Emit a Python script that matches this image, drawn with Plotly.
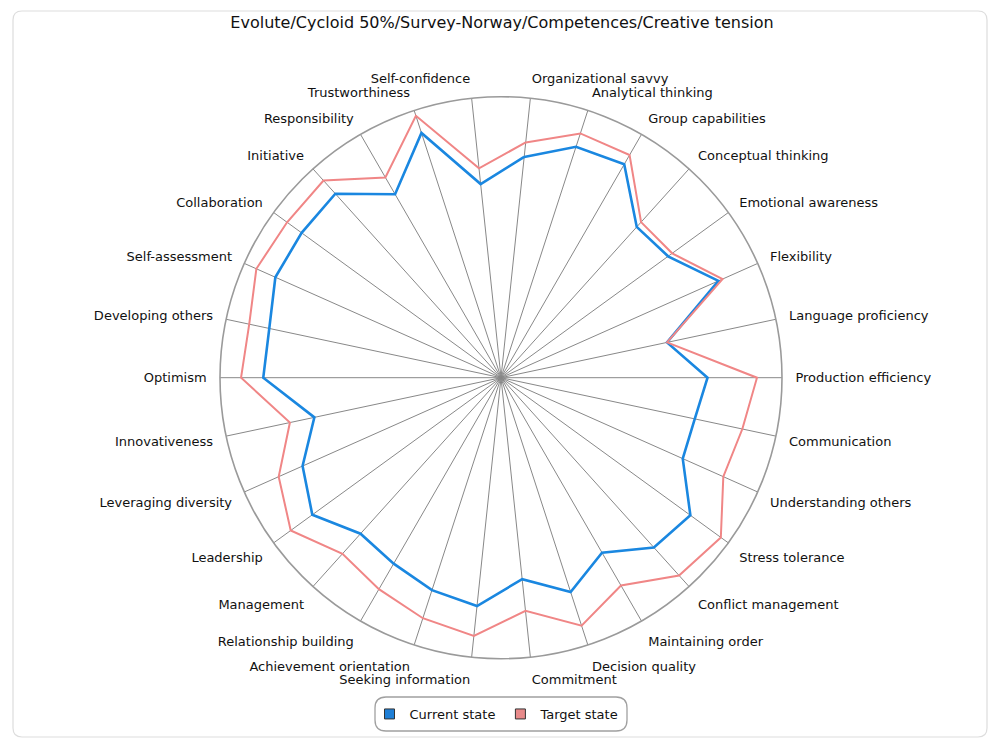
import plotly.graph_objects as go

# Competences, listed clockwise starting just right of the top
competences = [
    "Organizational savvy", "Analytical thinking", "Group capabilities",
    "Conceptual thinking", "Emotional awareness", "Flexibility",
    "Language proficiency", "Production efficiency", "Communication",
    "Understanding others", "Stress tolerance", "Conflict management",
    "Maintaining order", "Decision quality", "Commitment",
    "Seeking information", "Achievement orientation", "Relationship building",
    "Management", "Leadership", "Leveraging diversity", "Innovativeness",
    "Optimism", "Developing others", "Self-assessment", "Collaboration",
    "Initiative", "Responsibility", "Trustworthiness", "Self-confidence",
]

current_state = [
    79.0, 86.4, 87.7, 72.2, 73.5, 84.7, 60.4, 73.5, 70.5, 70.8,
    83.3, 81.3, 71.9, 80.2, 72.1, 81.7, 79.5, 76.4, 74.7, 83.0,
    77.3, 67.9, 84.6, 84.3, 87.9, 87.7, 88.1, 75.4, 91.6, 69.3,
]

target_state = [
    84.2, 91.4, 91.5, 74.5, 75.3, 86.3, 60.4, 91.1, 87.8, 86.6,
    96.7, 94.7, 85.4, 92.8, 83.4, 92.4, 90.0, 86.9, 84.3, 92.5,
    86.6, 76.8, 92.5, 91.6, 95.3, 94.1, 94.4, 82.3, 98.0, 74.9,
]

series_names = ["Current state", "Target state"]
line_colors = ["#1a87e0", "#f08686"]
legend_fills = ["#1f7fd6", "#e88a8a"]

W, H = 990, 738
FONT = "DejaVu Sans"


def px(x):
    return x / W


def py(y):
    return 1 - y / H


def rounded_rect(x0, y0, x1, y1, r):
    """SVG path (paper coords) for a rectangle with rounded corners given in pixels."""
    pts = [
        f"M {px(x0 + r)},{py(y0)}",
        f"L {px(x1 - r)},{py(y0)}",
        f"Q {px(x1)},{py(y0)} {px(x1)},{py(y0 + r)}",
        f"L {px(x1)},{py(y1 - r)}",
        f"Q {px(x1)},{py(y1)} {px(x1 - r)},{py(y1)}",
        f"L {px(x0 + r)},{py(y1)}",
        f"Q {px(x0)},{py(y1)} {px(x0)},{py(y1 - r)}",
        f"L {px(x0)},{py(y0 + r)}",
        f"Q {px(x0)},{py(y0)} {px(x0 + r)},{py(y0)}",
        "Z",
    ]
    return " ".join(pts)


fig = go.Figure()

for name, vals, col in zip(series_names, [current_state, target_state], line_colors):
    fig.add_trace(go.Scatterpolar(
        r=vals + vals[:1],
        theta=competences + competences[:1],
        mode="lines",
        line=dict(color=col, width=2.6 if name == "Current state" else 2),
        name=name,
        showlegend=False,
        hoverinfo="r+theta+name",
    ))

# Square legend swatches
for name, fill in zip(series_names, legend_fills):
    fig.add_trace(go.Scatterpolar(
        r=[None], theta=[competences[0]],
        mode="markers",
        marker=dict(symbol="square", size=10, color=fill,
                    line=dict(color="#333333", width=1)),
        name=name,
        showlegend=True,
    ))

cx, cy, R = 501, 377.7, 281

fig.update_layout(
    width=W, height=H,
    margin=dict(l=0, r=0, t=0, b=0),
    paper_bgcolor="white",
    plot_bgcolor="white",
    font=dict(family=FONT, size=13, color="#111111"),
    title=dict(
        text="Evolute/Cycloid 50%/Survey-Norway/Competences/Creative tension",
        x=px(502), xanchor="center",
        y=py(22), yanchor="middle",
        font=dict(family=FONT, size=16, color="#111111"),
    ),
    polar=dict(
        domain=dict(x=[px(cx - R), px(cx + R)], y=[py(cy + R), py(cy - R)]),
        bgcolor="white",
        radialaxis=dict(visible=False, range=[0, 100], showgrid=False),
        angularaxis=dict(
            direction="clockwise",
            rotation=84,
            showline=True, linecolor="#9a9a9a", linewidth=1.6,
            showgrid=True, gridcolor="#888888", gridwidth=1,
            ticks="outside", ticklen=10, tickcolor="rgba(0,0,0,0)",
            tickfont=dict(family=FONT, size=13, color="#111111"),
        ),
    ),
    legend=dict(
        orientation="h",
        x=px(497), xanchor="center",
        y=py(714), yanchor="middle",
        bgcolor="rgba(0,0,0,0)",
        font=dict(family=FONT, size=13, color="#111111"),
        itemwidth=30,
    ),
    shapes=[
        dict(type="path", xref="paper", yref="paper",
             path=rounded_rect(13, 11, 987, 737, 9),
             line=dict(color="#dddddd", width=1.2), layer="below"),
        dict(type="path", xref="paper", yref="paper",
             path=rounded_rect(375, 697, 627, 731, 11),
             line=dict(color="#a0a0a0", width=1.3), layer="below"),
    ],
)

fig.write_html("out.html")
